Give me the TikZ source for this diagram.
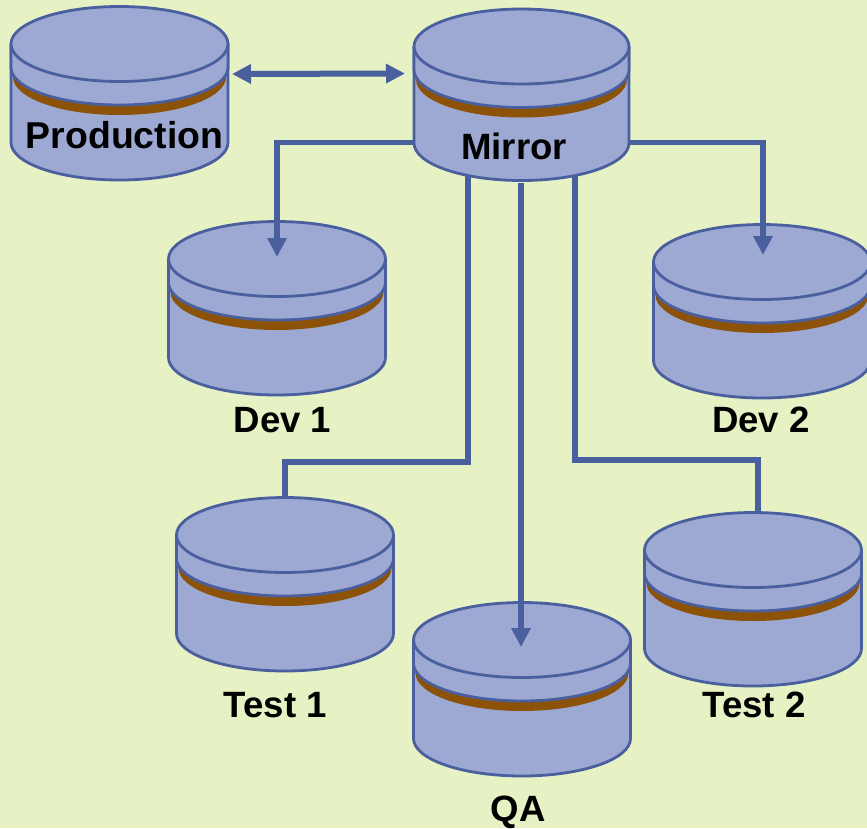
\documentclass[tikz,border=0pt]{standalone}
\usepackage{fontspec}
\setmainfont{Liberation Sans}
\usetikzlibrary{arrows.meta}
\definecolor{bgc}{HTML}{E6F1C4}
\definecolor{diskfill}{HTML}{9DA9D3}
\definecolor{diskline}{HTML}{4A5F9E}
\definecolor{band}{HTML}{8B5208}
\newcommand{\diskshape}[5]{% name, cx, top y, half width, centre depth of the bottom ellipse
  \begin{scope}[shift={(#2,-#3)}]
    \path[diskpart] (-#4pt,-38pt) -- (-#4pt,-#5pt)
      arc[start angle=180,end angle=360,x radius=#4pt,y radius=37.5pt]
      -- (#4pt,-38pt) -- cycle;
    \path[fill=band] (-#4pt+2pt,-71pt)
      arc[start angle=180,end angle=360,x radius=#4pt-2pt,y radius=38pt]
      -- (#4pt-2pt,-60pt) -- (-#4pt+2pt,-60pt) -- cycle;
    \path[diskpart] (-#4pt,-38pt) -- (-#4pt,-61.5pt)
      arc[start angle=180,end angle=360,x radius=#4pt,y radius=37.5pt]
      -- (#4pt,-38pt);
    \path[diskpart] (0pt,-38pt) ellipse[x radius=#4pt,y radius=37.5pt];
  \end{scope}
  \node[diskbox] (#1) at (#2,-#3-87) {};
}
\tikzset{
  x=1pt,y=1pt,
  diskpart/.style={fill=diskfill,draw=diskline,line width=2.8pt,line join=round},
  diskbox/.style={inner sep=0pt,outer sep=0pt,minimum width=217pt,minimum height=174pt},
  link/.style={draw=diskline,line width=5.8pt},
  tri/.tip={Triangle[length=19pt,width=18.5pt]},
  arrowed/.style={link,-{tri}},
  twoway/.style={draw=diskline,line width=6pt,{tri}-{tri}},
  lab/.style={font=\fontsize{36.6}{40}\selectfont\bfseries,inner sep=0pt,text=black}
}
\begin{document}
\begin{tikzpicture}
\path[use as bounding box,fill=bgc] (0,0) rectangle (867,-828);
\diskshape{prod}{119.5}{6}{108.5}{136.5}
\diskshape{mirror}{521.5}{8.5}{107.5}{134.5}
\diskshape{devone}{277}{221}{108.5}{136.5}
\diskshape{devtwo}{762}{224}{108.5}{136.5}
\diskshape{testone}{285}{497}{108.5}{136.5}
\diskshape{testtwo}{753}{512}{108.5}{136.5}
\diskshape{qa}{522}{602}{108.5}{136.5}
\draw[twoway] ([xshift=4pt,yshift=19pt]prod.east) -- ([xshift=-8pt,yshift=22pt]mirror.west);
\draw[arrowed] ([yshift=-47pt]mirror.west) -| ([yshift=-36pt]devone.north);
\draw[arrowed] ([yshift=-47pt]mirror.east) -| ([xshift=1pt,yshift=-31pt]devtwo.north);
\draw[link] ([xshift=-53.5pt,yshift=7pt]mirror.south) |- (391,-462) -| (testone.north);
\draw[link] ([xshift=53.5pt,yshift=7pt]mirror.south) |- (650,-460) -| ([xshift=5pt]testtwo.north);
\draw[arrowed] ([xshift=-0.5pt,yshift=-0.5pt]mirror.south) -- ([xshift=-1pt,yshift=-45pt]qa.north);
\node[lab,font=\fontsize{37.4}{40}\selectfont\bfseries] (lprod) at (124.5,-135) {Production};
\node[lab] (lmirror) at (514,-146) {Mirror};
\node[lab] (ldevone) at (282.5,-420) {Dev 1};
\node[lab] (ldevtwo) at (761,-420) {Dev 2};
\node[lab] (ltestone) at (275.5,-705) {Test 1};
\node[lab] (ltesttwo) at (754,-705) {Test 2};
\node[lab] (lqa) at (518,-812) {QA};
\end{tikzpicture}
\end{document}
